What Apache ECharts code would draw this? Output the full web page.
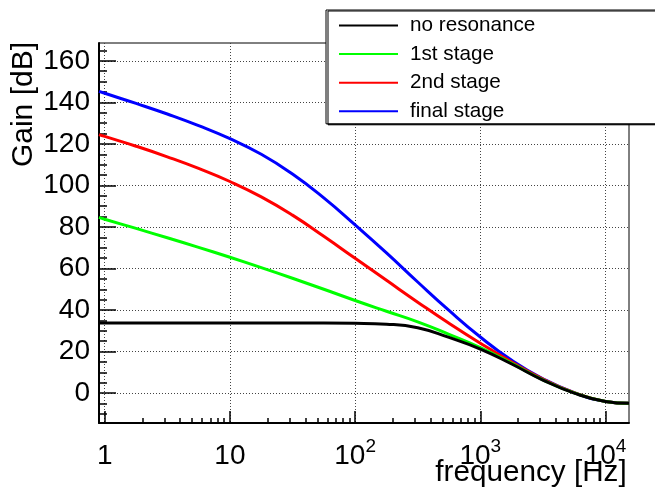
<!DOCTYPE html>
<html>
<head>
<meta charset="utf-8">
<script src="https://cdn.jsdelivr.net/npm/echarts@6/dist/echarts.min.js"></script>
<style>
  html, body { margin: 0; padding: 0; background: #fff; }
  #chart { width: 655px; height: 488px; }
</style>
</head>
<body>
<div id="chart"></div>
<script>
// Frequency samples (Hz) and gain curves (dB)
const freqHz = [0.9, 1, 1.78, 3.16, 5.62, 10, 17.8, 31.6, 56.2, 100, 178, 316, 562, 1000, 1780, 3160, 5620, 10000, 15400];
const gainNoResonance = [33.7, 33.7, 33.7, 33.7, 33.7, 33.7, 33.7, 33.7, 33.7, 33.6, 33.2, 31.5, 26.8, 21.2, 14.0, 6.3, 0.0, -4.0, -4.9];
const gainStage1 = [84.6, 83.7, 79.3, 74.8, 70.2, 65.4, 60.4, 55.3, 50.0, 44.6, 39.4, 34.3, 28.3, 21.9, 14.3, 6.4, 0.1, -4.0, -4.9];
const gainStage2 = [124.5, 123.6, 118.9, 113.8, 108.2, 101.9, 94.5, 85.7, 75.5, 64.9, 54.3, 43.8, 33.6, 24.0, 15.0, 6.8, 0.2, -4.0, -4.9];
const gainFinal = [145.3, 144.4, 139.5, 134.4, 128.8, 122.5, 115.0, 105.5, 94.0, 81.0, 67.5, 53.5, 39.8, 27.0, 15.8, 6.9, 0.2, -4.0, -4.9];

// Axis ticks
const xMajorTicks = [1, 10, 100, 1000, 10000];
const xMinorTicks = [2, 3, 4, 5, 6, 7, 8, 9, 20, 30, 40, 50, 60, 70, 80, 90,
  200, 300, 400, 500, 600, 700, 800, 900, 2000, 3000, 4000, 5000, 6000, 7000, 8000, 9000];
const yMajorTicks = [0, 20, 40, 60, 80, 100, 120, 140, 160];
const yMinorTicks = [-10, -5, 0, 5, 10, 15, 20, 25, 30, 35, 40, 45, 50, 55, 60, 65, 70, 75, 80, 85,
  90, 95, 100, 105, 110, 115, 120, 125, 130, 135, 140, 145, 150, 155, 160, 165];

const X_MIN = 0.9, X_MAX = 15400;
const Y_MIN = -14.4, Y_MAX = 168.6;

const FONT = '"Liberation Sans", Arial, Helvetica, sans-serif';

function pairs(ys) {
  return freqHz.map((f, i) => [f, ys[i]]);
}

function decadeLabel(v) {
  const e = Math.round(Math.log10(v));
  if (e === 0) return '{a|1}';
  if (e === 1) return '{a|10}';
  return '{a|10}{b|' + e + '}';
}

const gridLine = { show: true, lineStyle: { color: '#444', width: 1, type: [1, 2] } };

const chart = echarts.init(document.getElementById('chart'), null, { renderer: 'canvas' });

chart.setOption({
  animation: false,
  backgroundColor: '#fff',
  textStyle: { fontFamily: FONT },
  grid: {
    left: 99, right: 26, top: 43, bottom: 65,
    show: true, borderColor: '#000', borderWidth: 1,
    outerBoundsMode: 'none'
  },
  legend: {
    orient: 'vertical',
    left: 326, top: 10,
    padding: [5, 145, 2, 13],
    backgroundColor: '#fff',
    borderColor: '#000', borderWidth: 1,
    shadowColor: '#000', shadowBlur: 0, shadowOffsetX: 2, shadowOffsetY: 1,
    itemWidth: 59, itemHeight: 2, itemGap: 7.6,
    icon: 'rect',
    data: ['no resonance', '1st stage', '2nd stage', 'final stage'],
    textStyle: { fontFamily: FONT, fontSize: 20.7, color: '#000', lineHeight: 20, padding: [0, 0, 0, 7] }
  },
  xAxis: [
    {
      type: 'log', logBase: 10, min: X_MIN, max: X_MAX,
      position: 'bottom',
      name: 'frequency [Hz]',
      nameLocation: 'end', nameGap: -2.3, nameMoveOverlap: false,
      nameTextStyle: { fontFamily: FONT, fontSize: 29.7, lineHeight: 29, color: '#000', align: 'right', verticalAlign: 'top', padding: [35, 0, 0, 0] },
      axisLine: { show: true, onZero: false, lineStyle: { color: '#000', width: 2 } },
      axisTick: { show: true, inside: true, length: 12, customValues: xMajorTicks, lineStyle: { color: '#000', width: 1.5 } },
      minorTick: { show: false },
      axisLabel: {
        show: true, customValues: xMajorTicks, margin: 14.5,
        formatter: decadeLabel, color: '#000',
        rich: {
          a: { fontFamily: FONT, fontSize: 28, lineHeight: 28, color: '#000', padding: [9.5, 0, 0, 0] },
          b: { fontFamily: FONT, fontSize: 19, lineHeight: 19, color: '#000', verticalAlign: 'top' }
        }
      },
      splitLine: gridLine
    },
    {
      type: 'log', logBase: 10, min: X_MIN, max: X_MAX,
      position: 'bottom',
      axisLine: { show: false, onZero: false },
      axisTick: { show: true, inside: true, length: 5, customValues: xMinorTicks, lineStyle: { color: '#000', width: 1.5 } },
      axisLabel: { show: false },
      splitLine: { show: false }
    }
  ],
  yAxis: [
    {
      type: 'value', min: Y_MIN, max: Y_MAX,
      position: 'left',
      name: 'Gain [dB]',
      nameLocation: 'end', nameGap: 1, nameRotate: 90, nameMoveOverlap: false,
      nameTextStyle: { fontFamily: FONT, fontSize: 30, lineHeight: 30, color: '#000', align: 'right', verticalAlign: 'bottom', padding: [0, 0, 60, 0] },
      axisLine: { show: true, onZero: false, lineStyle: { color: '#000', width: 2 } },
      axisTick: { show: true, inside: true, length: 17, customValues: yMajorTicks, lineStyle: { color: '#000', width: 1.5 } },
      axisLabel: { show: true, customValues: yMajorTicks, margin: 9, fontFamily: FONT, fontSize: 28, color: '#000' },
      splitLine: gridLine
    },
    {
      type: 'value', min: Y_MIN, max: Y_MAX,
      position: 'left',
      axisLine: { show: false, onZero: false },
      axisTick: { show: true, inside: true, length: 8, customValues: yMinorTicks, lineStyle: { color: '#000', width: 1.5 } },
      axisLabel: { show: false },
      splitLine: { show: false }
    }
  ],
  series: [
    { name: 'final stage', type: 'line', data: pairs(gainFinal), color: '#0000ff' },
    { name: '2nd stage', type: 'line', data: pairs(gainStage2), color: '#ff0000' },
    { name: '1st stage', type: 'line', data: pairs(gainStage1), color: '#00ff00' },
    { name: 'no resonance', type: 'line', data: pairs(gainNoResonance), color: '#000000' }
  ].map(s => Object.assign(s, {
    xAxisIndex: 0, yAxisIndex: 0,
    symbol: 'none', smooth: 0.5,
    lineStyle: { width: 3, color: s.color },
    itemStyle: { color: s.color },
    z: 3
  }))
});
</script>
</body>
</html>
